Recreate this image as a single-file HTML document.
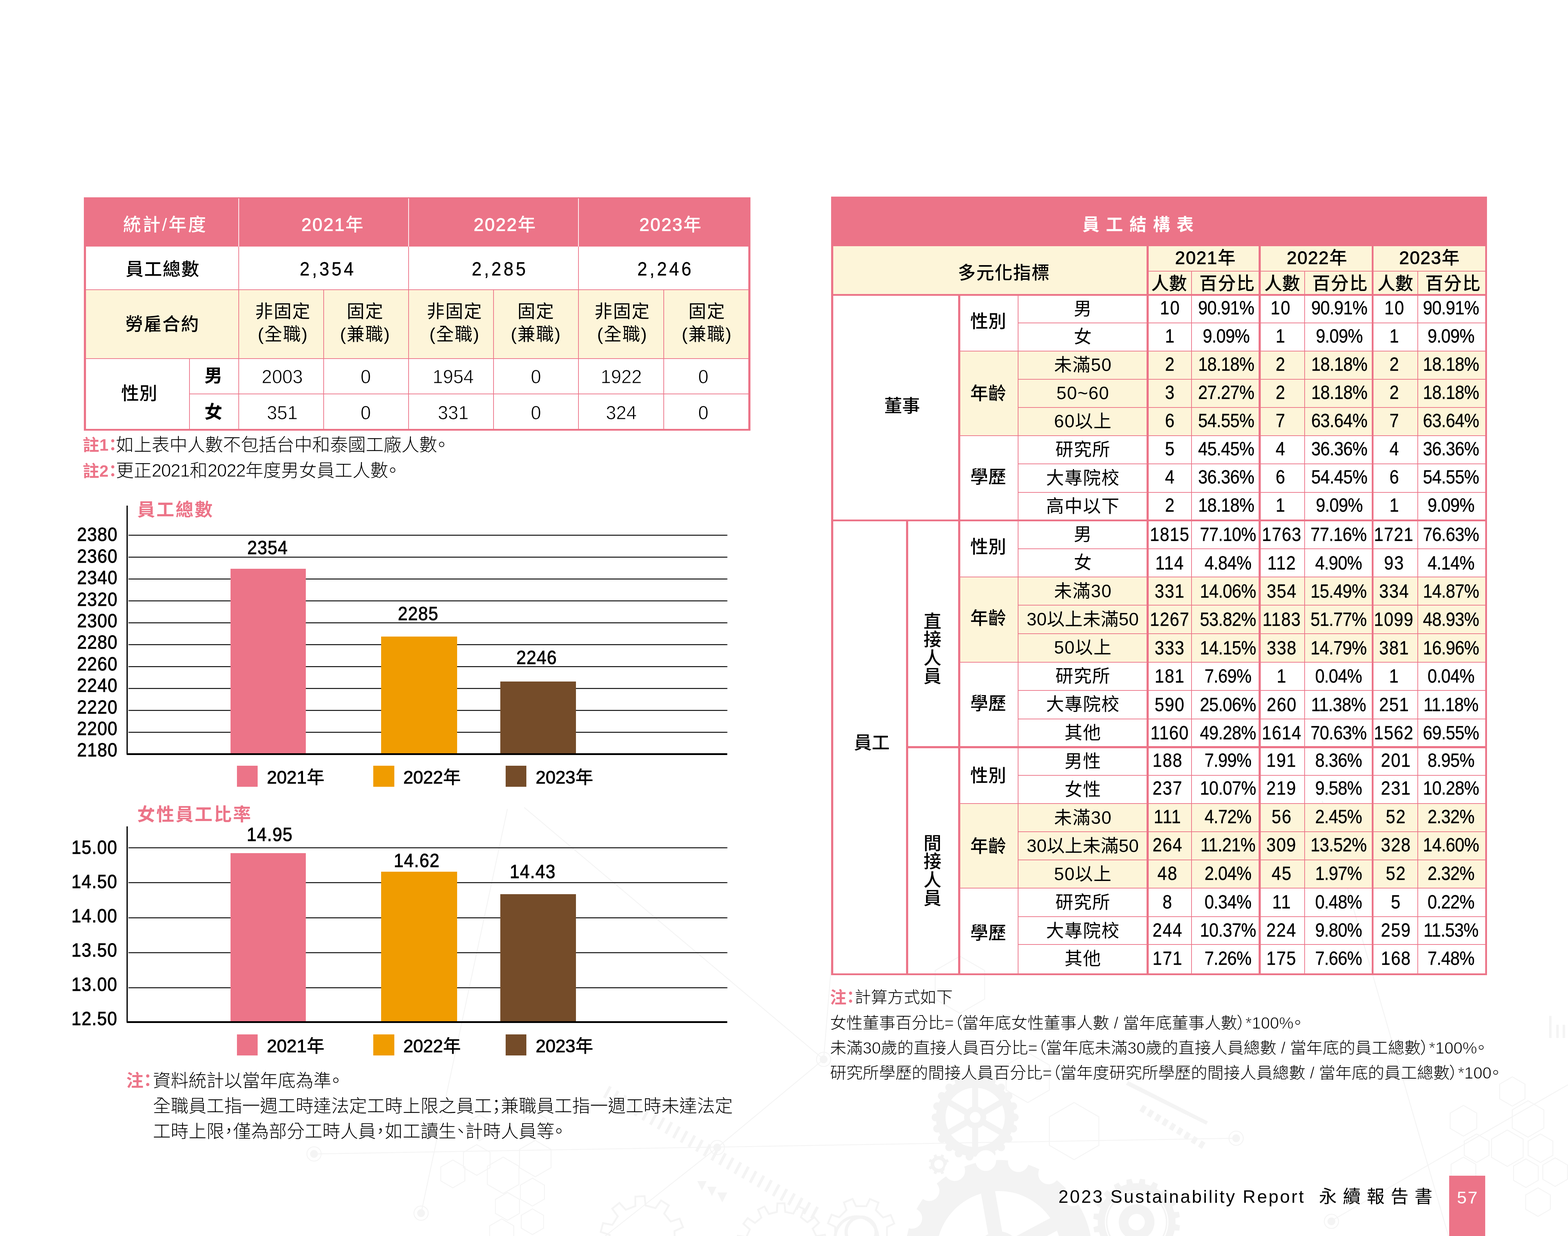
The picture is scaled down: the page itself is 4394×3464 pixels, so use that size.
<!DOCTYPE html>
<html lang="zh-Hant">
<head>
<meta charset="utf-8">
<title>2023 Sustainability Report 永續報告書 57</title>
<style>
html,body{margin:0;padding:0;}
body{width:4394px;height:3464px;background:#fff;position:relative;overflow:hidden;font-family:"Liberation Sans","Noto Sans CJK TC",sans-serif;color:#000;}
.b{position:absolute;}
.bg{position:absolute;left:0;top:0;}
.t{position:absolute;white-space:nowrap;transform:translateX(-50%);}
.l{transform:none;}
.p{font-feature-settings:"palt";}
.m{-webkit-text-stroke:1.2px currentColor;}
.n{letter-spacing:-1.2px;}
.lt{-webkit-text-stroke:1px #fff;}
.k{-webkit-text-stroke:.5px #000;}
.v{writing-mode:vertical-rl;font-size:50px;line-height:52px;font-weight:500;letter-spacing:1.4px;}
</style>
</head>
<body>
<svg class="bg" width="4394" height="3464" viewBox="0 0 4394 3464" aria-hidden="true">
<g fill="none" stroke="#f4f4f4" stroke-width="2.5">
<path d="M3705 2244L4059 3464"/>
<path d="M4394 3040L3735 3419"/>
<path d="M880 3234L3464 3190"/>
<path d="M1422 2267L1180 3400"/>
<path d="M1469 2263L2308 2969"/>
<path d="M2010 3216L2308 2969"/>
<path d="M2010 3216L1696 3464"/>
<path d="M2308 2969L2330 2700"/>
<path d="M4273.5 3079.5L4238.0 3100.0L4202.5 3079.5L4202.5 3038.5L4238.0 3018.0L4273.5 3038.5Z"/>
<path d="M4138.2 3162.5L4101.0 3184.0L4063.8 3162.5L4063.8 3119.5L4101.0 3098.0L4138.2 3119.5Z"/>
<path d="M4326.2 3161.5L4282.0 3187.0L4237.8 3161.5L4237.8 3110.5L4282.0 3085.0L4326.2 3110.5Z"/>
<path d="M4172.6 3238.0L4138.0 3258.0L4103.4 3238.0L4103.4 3198.0L4138.0 3178.0L4172.6 3198.0Z"/>
<path d="M4268.2 3243.5L4224.0 3269.0L4179.8 3243.5L4179.8 3192.5L4224.0 3167.0L4268.2 3192.5Z"/>
<path d="M4351.6 3238.0L4317.0 3258.0L4282.4 3238.0L4282.4 3198.0L4317.0 3178.0L4351.6 3198.0Z"/>
<path d="M4135.6 3303.0L4101.0 3323.0L4066.4 3303.0L4066.4 3263.0L4101.0 3243.0L4135.6 3263.0Z"/>
<path d="M4310.6 3308.0L4276.0 3328.0L4241.4 3308.0L4241.4 3268.0L4276.0 3248.0L4310.6 3268.0Z"/>
<path d="M4392.6 3305.0L4358.0 3325.0L4323.4 3305.0L4323.4 3265.0L4358.0 3245.0L4392.6 3265.0Z"/>
<path d="M4344.6 3389.0L4310.0 3409.0L4275.4 3389.0L4275.4 3349.0L4310.0 3329.0L4344.6 3349.0Z"/>
<path d="M1374.2 3179.0L1343.0 3197.0L1311.8 3179.0L1311.8 3143.0L1343.0 3125.0L1374.2 3143.0Z"/>
<path d="M1531.2 3171.0L1500.0 3189.0L1468.8 3171.0L1468.8 3135.0L1500.0 3117.0L1531.2 3135.0Z"/>
<path d="M1373.2 3272.5L1336.0 3294.0L1298.8 3272.5L1298.8 3229.5L1336.0 3208.0L1373.2 3229.5Z"/>
<path d="M1302.8 3309.5L1269.0 3329.0L1235.2 3309.5L1235.2 3270.5L1269.0 3251.0L1302.8 3270.5Z"/>
<path d="M1454.2 3319.5L1410.0 3345.0L1365.8 3319.5L1365.8 3268.5L1410.0 3243.0L1454.2 3268.5Z"/>
<path d="M1544.2 3272.5L1500.0 3298.0L1455.8 3272.5L1455.8 3221.5L1500.0 3196.0L1544.2 3221.5Z"/>
<path d="M1525.8 3360.5L1492.0 3380.0L1458.2 3360.5L1458.2 3321.5L1492.0 3302.0L1525.8 3321.5Z"/>
<path d="M1455.8 3400.5L1422.0 3420.0L1388.2 3400.5L1388.2 3361.5L1422.0 3342.0L1455.8 3361.5Z"/>
<path d="M1523.2 3442.0L1492.0 3460.0L1460.8 3442.0L1460.8 3406.0L1492.0 3388.0L1523.2 3406.0Z"/>
<path d="M1439.8 3474.5L1406.0 3494.0L1372.2 3474.5L1372.2 3435.5L1406.0 3416.0L1439.8 3435.5Z"/>
<path d="M2940.6 3055.0L2880.0 3090.0L2819.4 3055.0L2819.4 2985.0L2880.0 2950.0L2940.6 2985.0Z"/>
<path d="M3079.3 3210.0L3010.0 3250.0L2940.7 3210.0L2940.7 3130.0L3010.0 3090.0L3079.3 3130.0Z"/>
<path d="M2759.3 2800.0L2690.0 2840.0L2620.7 2800.0L2620.7 2720.0L2690.0 2680.0L2759.3 2720.0Z"/>
<circle cx="3731" cy="3423" r="20"/>
<circle cx="3464" cy="3190" r="20"/>
<circle cx="2010" cy="3216" r="20"/>
<circle cx="880" cy="3234" r="20"/>
<circle cx="1180" cy="3400" r="20"/>
<circle cx="2308" cy="2969" r="20"/>
<path d="M2485.5 3467.7L2505.8 3477.6L2495.6 3501.8L2474.4 3494.3L2453.9 3514.7L2461.2 3536.0L2436.9 3546.0L2427.2 3525.6L2398.3 3525.5L2388.4 3545.8L2364.2 3535.6L2371.7 3514.4L2351.3 3493.9L2330.0 3501.2L2320.0 3476.9L2340.4 3467.2L2340.5 3438.3L2320.2 3428.4L2330.4 3404.2L2351.6 3411.7L2372.1 3391.3L2364.8 3370.0L2389.1 3360.0L2398.8 3380.4L2427.7 3380.5L2437.6 3360.2L2461.8 3370.4L2454.3 3391.6L2474.7 3412.1L2496.0 3404.8L2506.0 3429.1L2485.6 3438.8Z" stroke-width="5"/>
<circle cx="2413" cy="3453" r="42" stroke-width="9"/>
<path d="M1891.5 3479.2L1916.7 3487.3L1910.1 3512.3L1884.2 3507.0L1868.7 3531.2L1884.3 3552.6L1864.2 3569.0L1846.4 3549.5L1819.6 3559.9L1819.6 3586.4L1793.8 3587.8L1790.8 3561.5L1763.0 3554.2L1747.5 3575.7L1725.7 3561.7L1738.8 3538.7L1720.5 3516.4L1695.4 3524.6L1686.0 3500.5L1710.1 3489.6L1708.5 3460.8L1683.3 3452.7L1689.9 3427.7L1715.8 3433.0L1731.3 3408.8L1715.7 3387.4L1735.8 3371.0L1753.6 3390.5L1780.4 3380.1L1780.4 3353.6L1806.2 3352.2L1809.2 3378.5L1837.0 3385.8L1852.5 3364.3L1874.3 3378.3L1861.2 3401.3L1879.5 3423.6L1904.6 3415.4L1914.0 3439.5L1889.9 3450.4Z" stroke-width="5"/>
<path d="M2293.5 3510.4L2316.9 3517.1L2312.6 3536.7L2288.6 3533.1L2278.7 3554.3L2296.9 3570.4L2284.6 3586.3L2264.4 3572.6L2246.4 3587.4L2255.8 3609.8L2237.8 3618.8L2225.5 3597.7L2202.9 3603.2L2201.6 3627.5L2181.5 3627.7L2179.6 3603.5L2156.9 3598.6L2145.1 3619.9L2126.9 3611.4L2135.7 3588.7L2117.4 3574.4L2097.6 3588.5L2084.9 3573.0L2102.6 3556.4L2092.3 3535.5L2068.3 3539.7L2063.6 3520.1L2086.8 3512.9L2086.5 3489.6L2063.1 3482.9L2067.4 3463.3L2091.4 3466.9L2101.3 3445.7L2083.1 3429.6L2095.4 3413.7L2115.6 3427.4L2133.6 3412.6L2124.2 3390.2L2142.2 3381.2L2154.5 3402.3L2177.1 3396.8L2178.4 3372.5L2198.5 3372.3L2200.4 3396.5L2223.1 3401.4L2234.9 3380.1L2253.1 3388.6L2244.3 3411.3L2262.6 3425.6L2282.4 3411.5L2295.1 3427.0L2277.4 3443.6L2287.7 3464.5L2311.7 3460.3L2316.4 3479.9L2293.2 3487.1Z" stroke-width="5"/>
<circle cx="2400" cy="3470" r="60" stroke-width="8"/>
</g>
<g fill="#f4f4f4">
<circle cx="3731" cy="3423" r="11"/>
<circle cx="3464" cy="3190" r="11"/>
<circle cx="2010" cy="3216" r="11"/>
<circle cx="880" cy="3234" r="11"/>
<circle cx="1180" cy="3400" r="11"/>
<circle cx="2308" cy="2969" r="11"/>
<path d="M1690.0 3075.0l17.0 -32.0l7.0 4.0l-17.0 32.0zM1711.5 3087.5l17.0 -32.0l7.0 4.0l-17.0 32.0zM1733.0 3100.0l17.0 -32.0l7.0 4.0l-17.0 32.0zM1754.5 3112.5l17.0 -32.0l7.0 4.0l-17.0 32.0zM1776.0 3125.0l17.0 -32.0l7.0 4.0l-17.0 32.0zM1797.5 3137.5l17.0 -32.0l7.0 4.0l-17.0 32.0zM1819.0 3150.0l17.0 -32.0l7.0 4.0l-17.0 32.0zM1840.5 3162.5l17.0 -32.0l7.0 4.0l-17.0 32.0zM1862.0 3175.0l17.0 -32.0l7.0 4.0l-17.0 32.0zM1883.5 3187.5l17.0 -32.0l7.0 4.0l-17.0 32.0zM1905.0 3200.0l17.0 -32.0l7.0 4.0l-17.0 32.0zM1926.5 3212.5l17.0 -32.0l7.0 4.0l-17.0 32.0zM1948.0 3225.0l17.0 -32.0l7.0 4.0l-17.0 32.0zM1969.5 3237.5l17.0 -32.0l7.0 4.0l-17.0 32.0zM1991.0 3250.0l17.0 -32.0l7.0 4.0l-17.0 32.0zM2012.5 3262.5l17.0 -32.0l7.0 4.0l-17.0 32.0zM2034.0 3275.0l17.0 -32.0l7.0 4.0l-17.0 32.0zM2055.5 3287.5l17.0 -32.0l7.0 4.0l-17.0 32.0zM2077.0 3300.0l17.0 -32.0l7.0 4.0l-17.0 32.0zM2098.5 3312.5l17.0 -32.0l7.0 4.0l-17.0 32.0zM2120.0 3325.0l17.0 -32.0l7.0 4.0l-17.0 32.0zM2141.5 3337.5l17.0 -32.0l7.0 4.0l-17.0 32.0zM2163.0 3350.0l17.0 -32.0l7.0 4.0l-17.0 32.0zM2184.5 3362.5l17.0 -32.0l7.0 4.0l-17.0 32.0zM2206.0 3375.0l17.0 -32.0l7.0 4.0l-17.0 32.0zM2227.5 3387.5l17.0 -32.0l7.0 4.0l-17.0 32.0zM2249.0 3400.0l17.0 -32.0l7.0 4.0l-17.0 32.0zM2270.5 3412.5l17.0 -32.0l7.0 4.0l-17.0 32.0z"/>
<path d="M3203.0 3096.0l-10.0 17.0l11.0 7.0l10.0 -17.0zM3223.5 3108.5l-10.0 17.0l11.0 7.0l10.0 -17.0zM3244.0 3121.0l-10.0 17.0l11.0 7.0l10.0 -17.0zM3264.5 3133.5l-10.0 17.0l11.0 7.0l10.0 -17.0zM3285.0 3146.0l-10.0 17.0l11.0 7.0l10.0 -17.0zM3305.5 3158.5l-10.0 17.0l11.0 7.0l10.0 -17.0zM3326.0 3171.0l-10.0 17.0l11.0 7.0l10.0 -17.0zM3346.5 3183.5l-10.0 17.0l11.0 7.0l10.0 -17.0zM3367.0 3196.0l-10.0 17.0l11.0 7.0l10.0 -17.0z"/>
<path d="M3162 3030L3385 3143L3380 3152L3155 3040Z"/>
<path d="M1954 3310l26 0l-13 26zM1982 3326l26 0l-13 26zM2010 3342l28 0l-14 28z"/>
<path d="M4341 2847h7v62h-7zM4361 2872h7v37h-7zM4379 2872h7v37h-7z"/>
</g>
<g fill="#f3f3f3" fill-rule="evenodd">
<path d="M2537.0 3513.0A262.0 262.0 0 1 1 3061.0 3513.0A262.0 262.0 0 1 1 2537.0 3513.0ZM2788.5 3338.3A175.0 175.0 0 0 1 2943.1 3413.7L2841.4 3467.8A62.0 62.0 0 0 0 2808.5 3451.7ZM2961.9 3449.0A175.0 175.0 0 0 1 2938.0 3619.4L2855.1 3539.4A62.0 62.0 0 0 0 2860.2 3503.1ZM2910.2 3648.2A175.0 175.0 0 0 1 2740.8 3678.0L2791.2 3574.5A62.0 62.0 0 0 0 2827.3 3568.2ZM2704.8 3660.5A175.0 175.0 0 0 1 2624.1 3508.6L2738.1 3524.6A62.0 62.0 0 0 0 2755.3 3557.0ZM2629.6 3469.0A175.0 175.0 0 0 1 2749.1 3345.3L2769.1 3458.7A62.0 62.0 0 0 0 2743.7 3485.0Z"/>
<path d="M2622.7 3131.6A110.0 110.0 0 1 1 2842.7 3131.6A110.0 110.0 0 1 1 2622.7 3131.6ZM2741.2 3049.0A83.0 83.0 0 0 1 2800.0 3083.0L2754.3 3109.3A31.0 31.0 0 0 0 2741.2 3101.8ZM2808.5 3097.7A83.0 83.0 0 0 1 2808.5 3165.5L2762.8 3139.1A31.0 31.0 0 0 0 2762.8 3124.1ZM2800.0 3180.2A83.0 83.0 0 0 1 2741.2 3214.2L2741.2 3161.4A31.0 31.0 0 0 0 2754.3 3153.9ZM2724.2 3214.2A83.0 83.0 0 0 1 2665.4 3180.2L2711.1 3153.9A31.0 31.0 0 0 0 2724.2 3161.4ZM2656.9 3165.5A83.0 83.0 0 0 1 2656.9 3097.7L2702.6 3124.1A31.0 31.0 0 0 0 2702.6 3139.1ZM2665.4 3083.0A83.0 83.0 0 0 1 2724.2 3049.0L2724.2 3101.8A31.0 31.0 0 0 0 2711.1 3109.3ZM2717.7 3131.6A15.0 15.0 0 1 1 2747.7 3131.6A15.0 15.0 0 1 1 2717.7 3131.6Z"/>
<path d="M2832.7 3131.6A11.0 11.0 0 1 1 2854.7 3131.6A11.0 11.0 0 1 1 2832.7 3131.6ZM2828.2 3162.9A11.0 11.0 0 1 1 2850.2 3162.9A11.0 11.0 0 1 1 2828.2 3162.9ZM2815.1 3191.6A11.0 11.0 0 1 1 2837.1 3191.6A11.0 11.0 0 1 1 2815.1 3191.6ZM2794.4 3215.5A11.0 11.0 0 1 1 2816.4 3215.5A11.0 11.0 0 1 1 2794.4 3215.5ZM2767.8 3232.6A11.0 11.0 0 1 1 2789.8 3232.6A11.0 11.0 0 1 1 2767.8 3232.6ZM2737.5 3241.5A11.0 11.0 0 1 1 2759.5 3241.5A11.0 11.0 0 1 1 2737.5 3241.5ZM2705.9 3241.5A11.0 11.0 0 1 1 2727.9 3241.5A11.0 11.0 0 1 1 2705.9 3241.5ZM2675.6 3232.6A11.0 11.0 0 1 1 2697.6 3232.6A11.0 11.0 0 1 1 2675.6 3232.6ZM2649.0 3215.5A11.0 11.0 0 1 1 2671.0 3215.5A11.0 11.0 0 1 1 2649.0 3215.5ZM2628.3 3191.6A11.0 11.0 0 1 1 2650.3 3191.6A11.0 11.0 0 1 1 2628.3 3191.6ZM2615.2 3162.9A11.0 11.0 0 1 1 2637.2 3162.9A11.0 11.0 0 1 1 2615.2 3162.9ZM2610.7 3131.6A11.0 11.0 0 1 1 2632.7 3131.6A11.0 11.0 0 1 1 2610.7 3131.6ZM2615.2 3100.3A11.0 11.0 0 1 1 2637.2 3100.3A11.0 11.0 0 1 1 2615.2 3100.3ZM2628.3 3071.6A11.0 11.0 0 1 1 2650.3 3071.6A11.0 11.0 0 1 1 2628.3 3071.6ZM2649.0 3047.7A11.0 11.0 0 1 1 2671.0 3047.7A11.0 11.0 0 1 1 2649.0 3047.7ZM2675.6 3030.6A11.0 11.0 0 1 1 2697.6 3030.6A11.0 11.0 0 1 1 2675.6 3030.6ZM2705.9 3021.7A11.0 11.0 0 1 1 2727.9 3021.7A11.0 11.0 0 1 1 2705.9 3021.7ZM2737.5 3021.7A11.0 11.0 0 1 1 2759.5 3021.7A11.0 11.0 0 1 1 2737.5 3021.7ZM2767.8 3030.6A11.0 11.0 0 1 1 2789.8 3030.6A11.0 11.0 0 1 1 2767.8 3030.6ZM2794.4 3047.7A11.0 11.0 0 1 1 2816.4 3047.7A11.0 11.0 0 1 1 2794.4 3047.7ZM2815.1 3071.6A11.0 11.0 0 1 1 2837.1 3071.6A11.0 11.0 0 1 1 2815.1 3071.6ZM2828.2 3100.3A11.0 11.0 0 1 1 2850.2 3100.3A11.0 11.0 0 1 1 2828.2 3100.3Z" fill-rule="nonzero"/>
<path d="M3292.1 3430.3L3306.8 3434.3L3304.8 3448.9L3289.6 3448.6L3285.2 3463.1L3298.0 3471.4L3291.6 3484.7L3277.1 3479.7L3268.5 3492.1L3278.2 3504.0L3268.0 3514.6L3255.7 3505.5L3243.7 3514.6L3249.2 3528.9L3236.2 3535.8L3227.4 3523.3L3213.1 3528.3L3214.0 3543.6L3199.5 3546.2L3195.0 3531.6L3179.9 3531.9L3175.9 3546.6L3161.3 3544.6L3161.6 3529.4L3147.1 3525.0L3138.8 3537.8L3125.5 3531.4L3130.5 3516.9L3118.1 3508.3L3106.2 3518.0L3095.6 3507.8L3104.7 3495.5L3095.6 3483.5L3081.3 3489.0L3074.4 3476.0L3086.9 3467.2L3081.9 3452.9L3066.6 3453.8L3064.0 3439.3L3078.6 3434.8L3078.3 3419.7L3063.6 3415.7L3065.6 3401.1L3080.8 3401.4L3085.2 3386.9L3072.4 3378.6L3078.8 3365.3L3093.3 3370.3L3101.9 3357.9L3092.2 3346.0L3102.4 3335.4L3114.7 3344.5L3126.7 3335.4L3121.2 3321.1L3134.2 3314.2L3143.0 3326.7L3157.3 3321.7L3156.4 3306.4L3170.9 3303.8L3175.4 3318.4L3190.5 3318.1L3194.5 3303.4L3209.1 3305.4L3208.8 3320.6L3223.3 3325.0L3231.6 3312.2L3244.9 3318.6L3239.9 3333.1L3252.3 3341.7L3264.2 3332.0L3274.8 3342.2L3265.7 3354.5L3274.8 3366.5L3289.1 3361.0L3296.0 3374.0L3283.5 3382.8L3288.5 3397.1L3303.8 3396.2L3306.4 3410.7L3291.8 3415.2ZM3085.2 3425.0A100.0 100.0 0 1 1 3285.2 3425.0A100.0 100.0 0 1 1 3085.2 3425.0Z"/>
<path d="M3076.2 3425.0A109.0 109.0 0 1 1 3294.2 3425.0A109.0 109.0 0 1 1 3076.2 3425.0ZM3096.2 3425.0A89.0 89.0 0 1 1 3274.2 3425.0A89.0 89.0 0 1 1 3096.2 3425.0ZM3099.2 3425.0A86.0 86.0 0 1 1 3271.2 3425.0A86.0 86.0 0 1 1 3099.2 3425.0ZM3103.2 3425.0A82.0 82.0 0 1 1 3267.2 3425.0A82.0 82.0 0 1 1 3103.2 3425.0ZM3135.2 3425.0A50.0 50.0 0 1 1 3235.2 3425.0A50.0 50.0 0 1 1 3135.2 3425.0ZM3162.2 3425.0A23.0 23.0 0 1 1 3208.2 3425.0A23.0 23.0 0 1 1 3162.2 3425.0Z"/>
<path d="M2652.4 3267.4L2658.8 3270.4L2655.8 3277.8L2649.0 3275.3L2643.0 3281.3L2645.4 3288.1L2638.0 3291.1L2635.0 3284.6L2626.4 3284.6L2623.4 3291.0L2616.0 3288.0L2618.5 3281.2L2612.5 3275.2L2605.7 3277.6L2602.7 3270.2L2609.2 3267.2L2609.2 3258.6L2602.8 3255.6L2605.8 3248.2L2612.6 3250.7L2618.6 3244.7L2616.2 3237.9L2623.6 3234.9L2626.6 3241.4L2635.2 3241.4L2638.2 3235.0L2645.6 3238.0L2643.1 3244.8L2649.1 3250.8L2655.9 3248.4L2658.9 3255.8L2652.4 3258.8ZM2617.8 3263.0A13.0 13.0 0 1 1 2643.8 3263.0A13.0 13.0 0 1 1 2617.8 3263.0Z"/>
<path d="M2607.8 3263.0A23.0 23.0 0 1 1 2653.8 3263.0A23.0 23.0 0 1 1 2607.8 3263.0ZM2617.8 3263.0A13.0 13.0 0 1 1 2643.8 3263.0A13.0 13.0 0 1 1 2617.8 3263.0Z"/>
</g>
<path d="M2824.7 3255.7A29.0 29.0 0 1 1 2882.7 3255.7A29.0 29.0 0 1 1 2824.7 3255.7ZM2909.4 3290.0A29.0 29.0 0 1 1 2967.4 3290.0A29.0 29.0 0 1 1 2909.4 3290.0ZM2977.2 3351.1A29.0 29.0 0 1 1 3035.2 3351.1A29.0 29.0 0 1 1 2977.2 3351.1ZM2519.9 3594.3A29.0 29.0 0 1 1 2577.9 3594.3A29.0 29.0 0 1 1 2519.9 3594.3ZM2507.2 3503.8A29.0 29.0 0 1 1 2565.2 3503.8A29.0 29.0 0 1 1 2507.2 3503.8ZM2526.2 3414.5A29.0 29.0 0 1 1 2584.2 3414.5A29.0 29.0 0 1 1 2526.2 3414.5ZM2574.6 3337.0A29.0 29.0 0 1 1 2632.6 3337.0A29.0 29.0 0 1 1 2574.6 3337.0ZM2646.5 3280.8A29.0 29.0 0 1 1 2704.5 3280.8A29.0 29.0 0 1 1 2646.5 3280.8ZM2733.4 3252.6A29.0 29.0 0 1 1 2791.4 3252.6A29.0 29.0 0 1 1 2733.4 3252.6Z" fill="#fff"/>
</svg>
<!-- left table -->
<div class="b" style="left:235.0px;top:553.0px;width:1867.5px;height:137.8px;background:#ec7488;"></div>
<div class="b" style="left:235.0px;top:812.0px;width:1867.5px;height:192.5px;background:#fdf5d9;"></div>
<div class="b" style="left:235.0px;top:553.0px;width:5.5px;height:654.0px;background:#ec7488;"></div>
<div class="b" style="left:2097.0px;top:553.0px;width:5.5px;height:654.0px;background:#ec7488;"></div>
<div class="b" style="left:235.0px;top:553.0px;width:1867.5px;height:5.5px;background:#ec7488;"></div>
<div class="b" style="left:235.0px;top:1201.5px;width:1867.5px;height:5.5px;background:#ec7488;"></div>
<div class="b" style="left:667.8px;top:556.0px;width:2.0px;height:134.8px;background:#fff;"></div>
<div class="b" style="left:1144.0px;top:556.0px;width:2.0px;height:134.8px;background:#fff;"></div>
<div class="b" style="left:1620.0px;top:556.0px;width:2.0px;height:134.8px;background:#fff;"></div>
<div class="b" style="left:235.0px;top:811.0px;width:1867.5px;height:2.0px;background:#ec7488;"></div>
<div class="b" style="left:235.0px;top:1003.5px;width:1867.5px;height:2.0px;background:#ec7488;"></div>
<div class="b" style="left:531.0px;top:1102.7px;width:1571.5px;height:2.0px;background:#ec7488;"></div>
<div class="b" style="left:667.8px;top:690.8px;width:2.0px;height:514.2px;background:#ec7488;"></div>
<div class="b" style="left:1144.0px;top:690.8px;width:2.0px;height:514.2px;background:#ec7488;"></div>
<div class="b" style="left:1620.0px;top:690.8px;width:2.0px;height:514.2px;background:#ec7488;"></div>
<div class="b" style="left:906.0px;top:812.0px;width:2.0px;height:393.0px;background:#ec7488;"></div>
<div class="b" style="left:1382.0px;top:812.0px;width:2.0px;height:393.0px;background:#ec7488;"></div>
<div class="b" style="left:1859.0px;top:812.0px;width:2.0px;height:393.0px;background:#ec7488;"></div>
<div class="b" style="left:530.0px;top:1004.5px;width:2.0px;height:200.5px;background:#ec7488;"></div>
<div class="t" style="top:605.0px;font-size:50px;line-height:50px;font-weight:500;letter-spacing:4.5px;color:#fff;left:463.2px;">統計/年度</div>
<div class="t" style="top:605.0px;font-size:50px;line-height:50px;font-weight:500;letter-spacing:3px;color:#fff;left:932.9px;"><span class="m">2021</span>年</div>
<div class="t" style="top:605.0px;font-size:50px;line-height:50px;font-weight:500;letter-spacing:3px;color:#fff;left:1415.7px;"><span class="m">2022</span>年</div>
<div class="t" style="top:605.0px;font-size:50px;line-height:50px;font-weight:500;letter-spacing:3px;color:#fff;left:1879.9px;"><span class="m">2023</span>年</div>
<div class="t" style="top:730.0px;font-size:50px;line-height:50px;font-weight:500;letter-spacing:2px;left:456.0px;">員工總數</div>
<div class="t k" style="top:726.0px;font-size:54px;line-height:54px;letter-spacing:7.3px;left:918.9px;transform:translateX(-50%) scaleX(0.92);">2,354</div>
<div class="t k" style="top:726.0px;font-size:54px;line-height:54px;letter-spacing:7.3px;left:1401.4px;transform:translateX(-50%) scaleX(0.92);">2,285</div>
<div class="t k" style="top:726.0px;font-size:54px;line-height:54px;letter-spacing:7.3px;left:1865.4px;transform:translateX(-50%) scaleX(0.92);">2,246</div>
<div class="t" style="top:884.0px;font-size:50px;line-height:50px;font-weight:500;letter-spacing:2px;left:455.0px;">勞雇合約</div>
<div class="t" style="top:848.0px;font-size:50px;line-height:50px;letter-spacing:2px;left:793.0px;">非固定</div>
<div class="t" style="top:912.0px;font-size:50px;line-height:50px;letter-spacing:2px;left:793.0px;">(全職)</div>
<div class="t" style="top:848.0px;font-size:50px;line-height:50px;letter-spacing:2px;left:1023.5px;">固定</div>
<div class="t" style="top:912.0px;font-size:50px;line-height:50px;letter-spacing:2px;left:1023.5px;">(兼職)</div>
<div class="t" style="top:848.0px;font-size:50px;line-height:50px;letter-spacing:2px;left:1274.0px;">非固定</div>
<div class="t" style="top:912.0px;font-size:50px;line-height:50px;letter-spacing:2px;left:1274.0px;">(全職)</div>
<div class="t" style="top:848.0px;font-size:50px;line-height:50px;letter-spacing:2px;left:1502.0px;">固定</div>
<div class="t" style="top:912.0px;font-size:50px;line-height:50px;letter-spacing:2px;left:1502.0px;">(兼職)</div>
<div class="t" style="top:848.0px;font-size:50px;line-height:50px;letter-spacing:2px;left:1744.0px;">非固定</div>
<div class="t" style="top:912.0px;font-size:50px;line-height:50px;letter-spacing:2px;left:1744.0px;">(全職)</div>
<div class="t" style="top:848.0px;font-size:50px;line-height:50px;letter-spacing:2px;left:1981.0px;">固定</div>
<div class="t" style="top:912.0px;font-size:50px;line-height:50px;letter-spacing:2px;left:1981.0px;">(兼職)</div>
<div class="t" style="top:1078.0px;font-size:50px;line-height:50px;font-weight:500;letter-spacing:1px;left:390.5px;">性別</div>
<div class="t" style="top:1028.0px;font-size:50px;line-height:50px;font-weight:700;left:598.0px;">男</div>
<div class="t" style="top:1130.0px;font-size:50px;line-height:50px;font-weight:700;left:598.0px;">女</div>
<div class="t lt" style="top:1027.5px;font-size:54px;line-height:54px;left:790.5px;transform:translateX(-50%) scaleX(0.96);">2003</div>
<div class="t lt" style="top:1027.5px;font-size:54px;line-height:54px;left:1025.0px;transform:translateX(-50%) scaleX(0.96);">0</div>
<div class="t lt" style="top:1027.5px;font-size:54px;line-height:54px;left:1270.0px;transform:translateX(-50%) scaleX(0.96);">1954</div>
<div class="t lt" style="top:1027.5px;font-size:54px;line-height:54px;left:1501.5px;transform:translateX(-50%) scaleX(0.96);">0</div>
<div class="t lt" style="top:1027.5px;font-size:54px;line-height:54px;left:1741.0px;transform:translateX(-50%) scaleX(0.96);">1922</div>
<div class="t lt" style="top:1027.5px;font-size:54px;line-height:54px;left:1970.5px;transform:translateX(-50%) scaleX(0.96);">0</div>
<div class="t lt" style="top:1129.0px;font-size:54px;line-height:54px;left:790.5px;transform:translateX(-50%) scaleX(0.96);">351</div>
<div class="t lt" style="top:1129.0px;font-size:54px;line-height:54px;left:1025.0px;transform:translateX(-50%) scaleX(0.96);">0</div>
<div class="t lt" style="top:1129.0px;font-size:54px;line-height:54px;left:1270.0px;transform:translateX(-50%) scaleX(0.96);">331</div>
<div class="t lt" style="top:1129.0px;font-size:54px;line-height:54px;left:1501.5px;transform:translateX(-50%) scaleX(0.96);">0</div>
<div class="t lt" style="top:1129.0px;font-size:54px;line-height:54px;left:1741.0px;transform:translateX(-50%) scaleX(0.96);">324</div>
<div class="t lt" style="top:1129.0px;font-size:54px;line-height:54px;left:1970.5px;transform:translateX(-50%) scaleX(0.96);">0</div>
<div class="t l p" style="top:1223.5px;font-size:46px;line-height:46px;font-weight:700;letter-spacing:0.5px;color:#ec7488;left:232.0px;">註1：</div>
<div class="t l p" style="top:1221.5px;font-size:50px;line-height:50px;font-weight:300;left:325.0px;">如上表中人數不包括台中和泰國工廠人數。</div>
<div class="t l p" style="top:1296.5px;font-size:46px;line-height:46px;font-weight:700;letter-spacing:0.5px;color:#ec7488;left:232.0px;">註2：</div>
<div class="t l p" style="top:1294.0px;font-size:50px;line-height:50px;font-weight:300;left:325.0px;">更正<span class="lt n">2021</span>和<span class="lt n">2022</span>年度男女員工人數。</div>
<!-- chart: 員工總數 -->
<div class="t l" style="top:1404.0px;font-size:50px;line-height:50px;font-weight:700;letter-spacing:3.7px;color:#ec7488;left:384.5px;">員工總數</div>
<svg class="bg" width="4394" height="3464" viewBox="0 0 4394 3464" aria-hidden="true"><path d="M360 1500.0H2038.3M360 1561.4H2038.3M360 1622.7H2038.3M360 1684.1H2038.3M360 1745.5H2038.3M360 1806.8H2038.3M360 1868.2H2038.3M360 1929.6H2038.3M360 1991.0H2038.3M360 2052.3H2038.3" fill="none" stroke="#000" stroke-width="2.5"/><path d="M356.3 1417V2113.7" fill="none" stroke="#000" stroke-width="3.5"/></svg>
<div class="b" style="left:645.6px;top:1594.1px;width:211.4px;height:519.6px;background:#ec7488;"></div>
<div class="b" style="left:1068.3px;top:1784.2px;width:212.3px;height:329.5px;background:#f09c00;"></div>
<div class="b" style="left:1402.4px;top:1909.8px;width:211.4px;height:203.9px;background:#754c29;"></div>
<div class="b" style="left:354.6px;top:2110.7px;width:1683.8px;height:5.0px;background:#000;"></div>
<div class="t l m" style="top:1471.3px;font-size:53px;line-height:53px;letter-spacing:1.5px;right:4064.6px;transform:scaleX(0.92);transform-origin:100% 0;">2380</div>
<div class="t l m" style="top:1531.7px;font-size:53px;line-height:53px;letter-spacing:1.5px;right:4064.6px;transform:scaleX(0.92);transform-origin:100% 0;">2360</div>
<div class="t l m" style="top:1592.1px;font-size:53px;line-height:53px;letter-spacing:1.5px;right:4064.6px;transform:scaleX(0.92);transform-origin:100% 0;">2340</div>
<div class="t l m" style="top:1652.5px;font-size:53px;line-height:53px;letter-spacing:1.5px;right:4064.6px;transform:scaleX(0.92);transform-origin:100% 0;">2320</div>
<div class="t l m" style="top:1712.9px;font-size:53px;line-height:53px;letter-spacing:1.5px;right:4064.6px;transform:scaleX(0.92);transform-origin:100% 0;">2300</div>
<div class="t l m" style="top:1773.3px;font-size:53px;line-height:53px;letter-spacing:1.5px;right:4064.6px;transform:scaleX(0.92);transform-origin:100% 0;">2280</div>
<div class="t l m" style="top:1833.7px;font-size:53px;line-height:53px;letter-spacing:1.5px;right:4064.6px;transform:scaleX(0.92);transform-origin:100% 0;">2260</div>
<div class="t l m" style="top:1894.1px;font-size:53px;line-height:53px;letter-spacing:1.5px;right:4064.6px;transform:scaleX(0.92);transform-origin:100% 0;">2240</div>
<div class="t l m" style="top:1954.5px;font-size:53px;line-height:53px;letter-spacing:1.5px;right:4064.6px;transform:scaleX(0.92);transform-origin:100% 0;">2220</div>
<div class="t l m" style="top:2014.9px;font-size:53px;line-height:53px;letter-spacing:1.5px;right:4064.6px;transform:scaleX(0.92);transform-origin:100% 0;">2200</div>
<div class="t l m" style="top:2075.3px;font-size:53px;line-height:53px;letter-spacing:1.5px;right:4064.6px;transform:scaleX(0.92);transform-origin:100% 0;">2180</div>
<div class="t m" style="top:1508.0px;font-size:53px;line-height:53px;letter-spacing:1.5px;left:749.7px;transform:translateX(-50%) scaleX(0.92);">2354</div>
<div class="t m" style="top:1692.5px;font-size:53px;line-height:53px;letter-spacing:1.5px;left:1172.3px;transform:translateX(-50%) scaleX(0.92);">2285</div>
<div class="t m" style="top:1815.5px;font-size:53px;line-height:53px;letter-spacing:1.5px;left:1504.1px;transform:translateX(-50%) scaleX(0.92);">2246</div>
<div class="b" style="left:664.0px;top:2146.0px;width:58.2px;height:58.5px;background:#ec7488;"></div>
<div class="t l" style="top:2154.0px;font-size:50px;line-height:50px;font-weight:500;left:748.0px;"><span class="m">2021</span>年</div>
<div class="b" style="left:1046.2px;top:2146.0px;width:59.0px;height:58.5px;background:#f09c00;"></div>
<div class="t l" style="top:2154.0px;font-size:50px;line-height:50px;font-weight:500;left:1130.2px;"><span class="m">2022</span>年</div>
<div class="b" style="left:1417.2px;top:2146.0px;width:58.1px;height:58.5px;background:#754c29;"></div>
<div class="t l" style="top:2154.0px;font-size:50px;line-height:50px;font-weight:500;left:1501.2px;"><span class="m">2023</span>年</div>
<!-- chart: 女性員工比率 -->
<div class="t l" style="top:2258.0px;font-size:50px;line-height:50px;font-weight:700;letter-spacing:3.7px;color:#ec7488;left:384.5px;">女性員工比率</div>
<svg class="bg" width="4394" height="3464" viewBox="0 0 4394 3464" aria-hidden="true"><path d="M360 2376.0H2038.3M360 2473.8H2038.3M360 2572.3H2038.3M360 2670.0H2038.3M360 2768.2H2038.3" fill="none" stroke="#000" stroke-width="2.5"/><path d="M356.3 2316V2865.1" fill="none" stroke="#000" stroke-width="3.5"/></svg>
<div class="b" style="left:645.6px;top:2390.7px;width:211.4px;height:474.4px;background:#ec7488;"></div>
<div class="b" style="left:1068.3px;top:2443.4px;width:212.3px;height:421.7px;background:#f09c00;"></div>
<div class="b" style="left:1402.4px;top:2506.1px;width:211.4px;height:359.0px;background:#754c29;"></div>
<div class="b" style="left:354.6px;top:2862.1px;width:1683.8px;height:5.0px;background:#000;"></div>
<div class="t l m" style="top:2347.7px;font-size:53px;line-height:53px;letter-spacing:1.5px;right:4064.6px;transform:scaleX(0.92);transform-origin:100% 0;">15.00</div>
<div class="t l m" style="top:2443.7px;font-size:53px;line-height:53px;letter-spacing:1.5px;right:4064.6px;transform:scaleX(0.92);transform-origin:100% 0;">14.50</div>
<div class="t l m" style="top:2539.7px;font-size:53px;line-height:53px;letter-spacing:1.5px;right:4064.6px;transform:scaleX(0.92);transform-origin:100% 0;">14.00</div>
<div class="t l m" style="top:2635.7px;font-size:53px;line-height:53px;letter-spacing:1.5px;right:4064.6px;transform:scaleX(0.92);transform-origin:100% 0;">13.50</div>
<div class="t l m" style="top:2731.7px;font-size:53px;line-height:53px;letter-spacing:1.5px;right:4064.6px;transform:scaleX(0.92);transform-origin:100% 0;">13.00</div>
<div class="t l m" style="top:2827.7px;font-size:53px;line-height:53px;letter-spacing:1.5px;right:4064.6px;transform:scaleX(0.92);transform-origin:100% 0;">12.50</div>
<div class="t m" style="top:2312.0px;font-size:53px;line-height:53px;letter-spacing:1.5px;left:755.7px;transform:translateX(-50%) scaleX(0.92);">14.95</div>
<div class="t m" style="top:2385.0px;font-size:53px;line-height:53px;letter-spacing:1.5px;left:1167.7px;transform:translateX(-50%) scaleX(0.92);">14.62</div>
<div class="t m" style="top:2415.5px;font-size:53px;line-height:53px;letter-spacing:1.5px;left:1493.0px;transform:translateX(-50%) scaleX(0.92);">14.43</div>
<div class="b" style="left:664.0px;top:2899.3px;width:58.2px;height:58.5px;background:#ec7488;"></div>
<div class="t l" style="top:2907.0px;font-size:50px;line-height:50px;font-weight:500;left:748.0px;"><span class="m">2021</span>年</div>
<div class="b" style="left:1046.2px;top:2899.3px;width:59.0px;height:58.5px;background:#f09c00;"></div>
<div class="t l" style="top:2907.0px;font-size:50px;line-height:50px;font-weight:500;left:1130.2px;"><span class="m">2022</span>年</div>
<div class="b" style="left:1417.2px;top:2899.3px;width:58.1px;height:58.5px;background:#754c29;"></div>
<div class="t l" style="top:2907.0px;font-size:50px;line-height:50px;font-weight:500;left:1501.2px;"><span class="m">2023</span>年</div>
<div class="t l p" style="top:3005.0px;font-size:48px;line-height:48px;font-weight:700;color:#ec7488;left:354.0px;">注：</div>
<div class="t l p" style="top:3003.5px;font-size:50px;line-height:50px;font-weight:300;left:428.5px;">資料統計以當年底為準。</div>
<div class="t l p" style="top:3074.5px;font-size:50px;line-height:50px;font-weight:300;left:428.5px;">全職員工指一週工時達法定工時上限之員工；兼職員工指一週工時未達法定</div>
<div class="t l p" style="top:3145.5px;font-size:50px;line-height:50px;font-weight:300;left:428.5px;">工時上限，僅為部分工時人員，如工讀生、計時人員等。</div>
<!-- right table -->
<div class="b" style="left:2329.0px;top:550.8px;width:1838.2px;height:139.2px;background:#ec7488;"></div>
<div class="b" style="left:2329.0px;top:690.0px;width:1838.2px;height:136.3px;background:#fdf5d9;"></div>
<div class="b" style="left:2688.1px;top:983.8px;width:1479.1px;height:237.2px;background:#fdf5d9;"></div>
<div class="b" style="left:2688.1px;top:1617.2px;width:1479.1px;height:238.5px;background:#fdf5d9;"></div>
<div class="b" style="left:2688.1px;top:2252.3px;width:1479.1px;height:237.1px;background:#fdf5d9;"></div>
<div class="b" style="left:2329.0px;top:550.8px;width:5.5px;height:2182.2px;background:#ec7488;"></div>
<div class="b" style="left:4161.7px;top:550.8px;width:5.5px;height:2182.2px;background:#ec7488;"></div>
<div class="b" style="left:2329.0px;top:550.8px;width:1838.2px;height:5.5px;background:#ec7488;"></div>
<div class="b" style="left:2329.0px;top:2727.5px;width:1838.2px;height:5.5px;background:#ec7488;"></div>
<div class="b" style="left:3216.0px;top:758.8px;width:951.2px;height:2.0px;background:#ec7488;"></div>
<div class="b" style="left:2852.8px;top:903.8px;width:1314.4px;height:2.0px;background:#ec7488;"></div>
<div class="b" style="left:2688.1px;top:982.8px;width:1479.1px;height:2.0px;background:#ec7488;"></div>
<div class="b" style="left:2852.8px;top:1061.9px;width:1314.4px;height:2.0px;background:#ec7488;"></div>
<div class="b" style="left:2852.8px;top:1141.0px;width:1314.4px;height:2.0px;background:#ec7488;"></div>
<div class="b" style="left:2688.1px;top:1220.0px;width:1479.1px;height:2.0px;background:#ec7488;"></div>
<div class="b" style="left:2852.8px;top:1299.2px;width:1314.4px;height:2.0px;background:#ec7488;"></div>
<div class="b" style="left:2852.8px;top:1378.5px;width:1314.4px;height:2.0px;background:#ec7488;"></div>
<div class="b" style="left:2852.8px;top:1537.0px;width:1314.4px;height:2.0px;background:#ec7488;"></div>
<div class="b" style="left:2688.1px;top:1616.2px;width:1479.1px;height:2.0px;background:#ec7488;"></div>
<div class="b" style="left:2852.8px;top:1695.3px;width:1314.4px;height:2.0px;background:#ec7488;"></div>
<div class="b" style="left:2852.8px;top:1775.0px;width:1314.4px;height:2.0px;background:#ec7488;"></div>
<div class="b" style="left:2688.1px;top:1854.7px;width:1479.1px;height:2.0px;background:#ec7488;"></div>
<div class="b" style="left:2852.8px;top:1934.1px;width:1314.4px;height:2.0px;background:#ec7488;"></div>
<div class="b" style="left:2852.8px;top:2013.7px;width:1314.4px;height:2.0px;background:#ec7488;"></div>
<div class="b" style="left:2852.8px;top:2171.9px;width:1314.4px;height:2.0px;background:#ec7488;"></div>
<div class="b" style="left:2688.1px;top:2251.3px;width:1479.1px;height:2.0px;background:#ec7488;"></div>
<div class="b" style="left:2852.8px;top:2330.3px;width:1314.4px;height:2.0px;background:#ec7488;"></div>
<div class="b" style="left:2852.8px;top:2409.0px;width:1314.4px;height:2.0px;background:#ec7488;"></div>
<div class="b" style="left:2688.1px;top:2488.4px;width:1479.1px;height:2.0px;background:#ec7488;"></div>
<div class="b" style="left:2852.8px;top:2567.5px;width:1314.4px;height:2.0px;background:#ec7488;"></div>
<div class="b" style="left:2852.8px;top:2646.3px;width:1314.4px;height:2.0px;background:#ec7488;"></div>
<div class="b" style="left:2851.8px;top:826.3px;width:2.0px;height:1904.7px;background:#ec7488;"></div>
<div class="b" style="left:3337.6px;top:759.8px;width:2.0px;height:1971.2px;background:#ec7488;"></div>
<div class="b" style="left:3655.0px;top:759.8px;width:2.0px;height:1971.2px;background:#ec7488;"></div>
<div class="b" style="left:3972.0px;top:759.8px;width:2.0px;height:1971.2px;background:#ec7488;"></div>
<div class="b" style="left:2329.0px;top:823.5px;width:1838.2px;height:5.5px;background:#ec7488;"></div>
<div class="b" style="left:2329.0px;top:1455.5px;width:1838.2px;height:5.5px;background:#ec7488;"></div>
<div class="b" style="left:2541.8px;top:2091.2px;width:1625.4px;height:5.5px;background:#ec7488;"></div>
<div class="b" style="left:2539.1px;top:1458.3px;width:5.5px;height:1272.7px;background:#ec7488;"></div>
<div class="b" style="left:2685.3px;top:826.3px;width:5.5px;height:1904.7px;background:#ec7488;"></div>
<div class="b" style="left:3213.2px;top:690.0px;width:5.5px;height:2041.0px;background:#ec7488;"></div>
<div class="b" style="left:3527.1px;top:690.0px;width:5.5px;height:2041.0px;background:#ec7488;"></div>
<div class="b" style="left:3843.7px;top:690.0px;width:5.5px;height:2041.0px;background:#ec7488;"></div>
<div class="t" style="top:606.0px;font-size:48px;line-height:48px;font-weight:700;letter-spacing:18px;color:#fff;left:3198.0px;">員工結構表</div>
<div class="t" style="top:740.0px;font-size:50px;line-height:50px;font-weight:500;letter-spacing:1.6px;left:2813.3px;">多元化指標</div>
<div class="t" style="top:698.0px;font-size:50px;line-height:50px;font-weight:500;letter-spacing:2px;left:3378.7px;"><span class="m">2021</span>年</div>
<div class="t" style="top:698.0px;font-size:50px;line-height:50px;font-weight:500;letter-spacing:2px;left:3691.5px;"><span class="m">2022</span>年</div>
<div class="t" style="top:698.0px;font-size:50px;line-height:50px;font-weight:500;letter-spacing:2px;left:4006.5px;"><span class="m">2023</span>年</div>
<div class="t" style="top:770.0px;font-size:50px;line-height:50px;font-weight:500;left:3276.0px;">人數</div>
<div class="t" style="top:770.0px;font-size:50px;line-height:50px;font-weight:500;left:3593.0px;">人數</div>
<div class="t" style="top:770.0px;font-size:50px;line-height:50px;font-weight:500;left:3910.0px;">人數</div>
<div class="t" style="top:770.0px;font-size:50px;line-height:50px;font-weight:500;letter-spacing:2px;left:3439.0px;">百分比</div>
<div class="t" style="top:770.0px;font-size:50px;line-height:50px;font-weight:500;letter-spacing:2px;left:3755.5px;">百分比</div>
<div class="t" style="top:770.0px;font-size:50px;line-height:50px;font-weight:500;letter-spacing:2px;left:4072.0px;">百分比</div>
<div class="t" style="top:1113.0px;font-size:50px;line-height:50px;font-weight:500;left:2528.0px;">董事</div>
<div class="t" style="top:2057.0px;font-size:50px;line-height:50px;font-weight:500;left:2443.0px;">員工</div>
<div class="t l v" style="left:2582.0px;top:1714.5px;">直接人員</div>
<div class="t l v" style="left:2582.0px;top:2336.5px;">間接人員</div>
<div class="t" style="top:875.7px;font-size:50px;line-height:50px;font-weight:500;letter-spacing:0.5px;left:2769.6px;">性別</div>
<div class="t" style="top:1077.5px;font-size:50px;line-height:50px;font-weight:500;letter-spacing:0.5px;left:2769.6px;">年齡</div>
<div class="t" style="top:1311.8px;font-size:50px;line-height:50px;font-weight:500;letter-spacing:0.5px;left:2769.6px;">學歷</div>
<div class="t" style="top:1507.7px;font-size:50px;line-height:50px;font-weight:500;letter-spacing:0.5px;left:2769.6px;">性別</div>
<div class="t" style="top:1708.0px;font-size:50px;line-height:50px;font-weight:500;letter-spacing:0.5px;left:2769.6px;">年齡</div>
<div class="t" style="top:1947.0px;font-size:50px;line-height:50px;font-weight:500;letter-spacing:0.5px;left:2769.6px;">學歷</div>
<div class="t" style="top:2149.2px;font-size:50px;line-height:50px;font-weight:500;letter-spacing:0.5px;left:2769.6px;">性別</div>
<div class="t" style="top:2347.2px;font-size:50px;line-height:50px;font-weight:500;letter-spacing:0.5px;left:2769.6px;">年齡</div>
<div class="t" style="top:2590.0px;font-size:50px;line-height:50px;font-weight:500;letter-spacing:0.5px;left:2769.6px;">學歷</div>
<div class="t" style="top:840.6px;font-size:50px;line-height:50px;letter-spacing:1.6px;left:3034.8px;">男</div>
<div class="t k" style="top:835.0px;font-size:54px;line-height:54px;letter-spacing:2.4px;left:3278.7px;transform:translateX(-50%) scaleX(0.88);">10</div>
<div class="t k" style="top:835.0px;font-size:54px;line-height:54px;letter-spacing:-0.8px;left:3436.4px;transform:translateX(-50%) scaleX(0.88);">90.91%</div>
<div class="t k" style="top:835.0px;font-size:54px;line-height:54px;letter-spacing:2.4px;left:3589.2px;transform:translateX(-50%) scaleX(0.88);">10</div>
<div class="t k" style="top:835.0px;font-size:54px;line-height:54px;letter-spacing:-0.8px;left:3752.9px;transform:translateX(-50%) scaleX(0.88);">90.91%</div>
<div class="t k" style="top:835.0px;font-size:54px;line-height:54px;letter-spacing:2.4px;left:3908.3px;transform:translateX(-50%) scaleX(0.88);">10</div>
<div class="t k" style="top:835.0px;font-size:54px;line-height:54px;letter-spacing:-0.8px;left:4065.6px;transform:translateX(-50%) scaleX(0.88);">90.91%</div>
<div class="t" style="top:919.1px;font-size:50px;line-height:50px;letter-spacing:1.6px;left:3034.8px;">女</div>
<div class="t k" style="top:913.5px;font-size:54px;line-height:54px;left:3277.6px;transform:translateX(-50%) scaleX(0.88);">1</div>
<div class="t k" style="top:913.5px;font-size:54px;line-height:54px;letter-spacing:-0.8px;left:3436.4px;transform:translateX(-50%) scaleX(0.88);">9.09%</div>
<div class="t k" style="top:913.5px;font-size:54px;line-height:54px;left:3588.1px;transform:translateX(-50%) scaleX(0.88);">1</div>
<div class="t k" style="top:913.5px;font-size:54px;line-height:54px;letter-spacing:-0.8px;left:3752.9px;transform:translateX(-50%) scaleX(0.88);">9.09%</div>
<div class="t k" style="top:913.5px;font-size:54px;line-height:54px;left:3907.2px;transform:translateX(-50%) scaleX(0.88);">1</div>
<div class="t k" style="top:913.5px;font-size:54px;line-height:54px;letter-spacing:-0.8px;left:4065.6px;transform:translateX(-50%) scaleX(0.88);">9.09%</div>
<div class="t" style="top:998.1px;font-size:50px;line-height:50px;letter-spacing:1.6px;left:3034.8px;">未滿50</div>
<div class="t k" style="top:992.5px;font-size:54px;line-height:54px;left:3277.6px;transform:translateX(-50%) scaleX(0.88);">2</div>
<div class="t k" style="top:992.5px;font-size:54px;line-height:54px;letter-spacing:-0.8px;left:3436.4px;transform:translateX(-50%) scaleX(0.88);">18.18%</div>
<div class="t k" style="top:992.5px;font-size:54px;line-height:54px;left:3588.1px;transform:translateX(-50%) scaleX(0.88);">2</div>
<div class="t k" style="top:992.5px;font-size:54px;line-height:54px;letter-spacing:-0.8px;left:3752.9px;transform:translateX(-50%) scaleX(0.88);">18.18%</div>
<div class="t k" style="top:992.5px;font-size:54px;line-height:54px;left:3907.2px;transform:translateX(-50%) scaleX(0.88);">2</div>
<div class="t k" style="top:992.5px;font-size:54px;line-height:54px;letter-spacing:-0.8px;left:4065.6px;transform:translateX(-50%) scaleX(0.88);">18.18%</div>
<div class="t" style="top:1077.2px;font-size:50px;line-height:50px;letter-spacing:1.6px;left:3034.8px;">50~60</div>
<div class="t k" style="top:1071.6px;font-size:54px;line-height:54px;left:3277.6px;transform:translateX(-50%) scaleX(0.88);">3</div>
<div class="t k" style="top:1071.6px;font-size:54px;line-height:54px;letter-spacing:-0.8px;left:3436.4px;transform:translateX(-50%) scaleX(0.88);">27.27%</div>
<div class="t k" style="top:1071.6px;font-size:54px;line-height:54px;left:3588.1px;transform:translateX(-50%) scaleX(0.88);">2</div>
<div class="t k" style="top:1071.6px;font-size:54px;line-height:54px;letter-spacing:-0.8px;left:3752.9px;transform:translateX(-50%) scaleX(0.88);">18.18%</div>
<div class="t k" style="top:1071.6px;font-size:54px;line-height:54px;left:3907.2px;transform:translateX(-50%) scaleX(0.88);">2</div>
<div class="t k" style="top:1071.6px;font-size:54px;line-height:54px;letter-spacing:-0.8px;left:4065.6px;transform:translateX(-50%) scaleX(0.88);">18.18%</div>
<div class="t" style="top:1156.3px;font-size:50px;line-height:50px;letter-spacing:1.6px;left:3034.8px;">60以上</div>
<div class="t k" style="top:1150.7px;font-size:54px;line-height:54px;left:3277.6px;transform:translateX(-50%) scaleX(0.88);">6</div>
<div class="t k" style="top:1150.7px;font-size:54px;line-height:54px;letter-spacing:-0.8px;left:3436.4px;transform:translateX(-50%) scaleX(0.88);">54.55%</div>
<div class="t k" style="top:1150.7px;font-size:54px;line-height:54px;left:3588.1px;transform:translateX(-50%) scaleX(0.88);">7</div>
<div class="t k" style="top:1150.7px;font-size:54px;line-height:54px;letter-spacing:-0.8px;left:3752.9px;transform:translateX(-50%) scaleX(0.88);">63.64%</div>
<div class="t k" style="top:1150.7px;font-size:54px;line-height:54px;left:3907.2px;transform:translateX(-50%) scaleX(0.88);">7</div>
<div class="t k" style="top:1150.7px;font-size:54px;line-height:54px;letter-spacing:-0.8px;left:4065.6px;transform:translateX(-50%) scaleX(0.88);">63.64%</div>
<div class="t" style="top:1235.3px;font-size:50px;line-height:50px;letter-spacing:1.6px;left:3034.8px;">研究所</div>
<div class="t k" style="top:1229.7px;font-size:54px;line-height:54px;left:3277.6px;transform:translateX(-50%) scaleX(0.88);">5</div>
<div class="t k" style="top:1229.7px;font-size:54px;line-height:54px;letter-spacing:-0.8px;left:3436.4px;transform:translateX(-50%) scaleX(0.88);">45.45%</div>
<div class="t k" style="top:1229.7px;font-size:54px;line-height:54px;left:3588.1px;transform:translateX(-50%) scaleX(0.88);">4</div>
<div class="t k" style="top:1229.7px;font-size:54px;line-height:54px;letter-spacing:-0.8px;left:3752.9px;transform:translateX(-50%) scaleX(0.88);">36.36%</div>
<div class="t k" style="top:1229.7px;font-size:54px;line-height:54px;left:3907.2px;transform:translateX(-50%) scaleX(0.88);">4</div>
<div class="t k" style="top:1229.7px;font-size:54px;line-height:54px;letter-spacing:-0.8px;left:4065.6px;transform:translateX(-50%) scaleX(0.88);">36.36%</div>
<div class="t" style="top:1314.5px;font-size:50px;line-height:50px;letter-spacing:1.6px;left:3034.8px;">大專院校</div>
<div class="t k" style="top:1308.9px;font-size:54px;line-height:54px;left:3277.6px;transform:translateX(-50%) scaleX(0.88);">4</div>
<div class="t k" style="top:1308.9px;font-size:54px;line-height:54px;letter-spacing:-0.8px;left:3436.4px;transform:translateX(-50%) scaleX(0.88);">36.36%</div>
<div class="t k" style="top:1308.9px;font-size:54px;line-height:54px;left:3588.1px;transform:translateX(-50%) scaleX(0.88);">6</div>
<div class="t k" style="top:1308.9px;font-size:54px;line-height:54px;letter-spacing:-0.8px;left:3752.9px;transform:translateX(-50%) scaleX(0.88);">54.45%</div>
<div class="t k" style="top:1308.9px;font-size:54px;line-height:54px;left:3907.2px;transform:translateX(-50%) scaleX(0.88);">6</div>
<div class="t k" style="top:1308.9px;font-size:54px;line-height:54px;letter-spacing:-0.8px;left:4065.6px;transform:translateX(-50%) scaleX(0.88);">54.55%</div>
<div class="t" style="top:1393.8px;font-size:50px;line-height:50px;letter-spacing:1.6px;left:3034.8px;">高中以下</div>
<div class="t k" style="top:1388.2px;font-size:54px;line-height:54px;left:3277.6px;transform:translateX(-50%) scaleX(0.88);">2</div>
<div class="t k" style="top:1388.2px;font-size:54px;line-height:54px;letter-spacing:-0.8px;left:3436.4px;transform:translateX(-50%) scaleX(0.88);">18.18%</div>
<div class="t k" style="top:1388.2px;font-size:54px;line-height:54px;left:3588.1px;transform:translateX(-50%) scaleX(0.88);">1</div>
<div class="t k" style="top:1388.2px;font-size:54px;line-height:54px;letter-spacing:-0.8px;left:3752.9px;transform:translateX(-50%) scaleX(0.88);">9.09%</div>
<div class="t k" style="top:1388.2px;font-size:54px;line-height:54px;left:3907.2px;transform:translateX(-50%) scaleX(0.88);">1</div>
<div class="t k" style="top:1388.2px;font-size:54px;line-height:54px;letter-spacing:-0.8px;left:4065.6px;transform:translateX(-50%) scaleX(0.88);">9.09%</div>
<div class="t" style="top:1472.6px;font-size:50px;line-height:50px;letter-spacing:1.6px;left:3034.8px;">男</div>
<div class="t k" style="top:1469.9px;font-size:54px;line-height:54px;letter-spacing:1.6px;left:3277.7px;transform:translateX(-50%) scaleX(0.88);">1815</div>
<div class="t k" style="top:1469.9px;font-size:54px;line-height:54px;letter-spacing:-0.8px;left:3440.6px;transform:translateX(-50%) scaleX(0.88);">77.10%</div>
<div class="t k" style="top:1469.9px;font-size:54px;line-height:54px;letter-spacing:1.6px;left:3592.0px;transform:translateX(-50%) scaleX(0.88);">1763</div>
<div class="t k" style="top:1469.9px;font-size:54px;line-height:54px;letter-spacing:-0.8px;left:3750.6px;transform:translateX(-50%) scaleX(0.88);">77.16%</div>
<div class="t k" style="top:1469.9px;font-size:54px;line-height:54px;letter-spacing:1.6px;left:3906.4px;transform:translateX(-50%) scaleX(0.88);">1721</div>
<div class="t k" style="top:1469.9px;font-size:54px;line-height:54px;letter-spacing:-0.8px;left:4065.8px;transform:translateX(-50%) scaleX(0.88);">76.63%</div>
<div class="t" style="top:1552.3px;font-size:50px;line-height:50px;letter-spacing:1.6px;left:3034.8px;">女</div>
<div class="t k" style="top:1549.6px;font-size:54px;line-height:54px;letter-spacing:2px;left:3277.9px;transform:translateX(-50%) scaleX(0.88);">114</div>
<div class="t k" style="top:1549.6px;font-size:54px;line-height:54px;letter-spacing:-0.8px;left:3440.6px;transform:translateX(-50%) scaleX(0.88);">4.84%</div>
<div class="t k" style="top:1549.6px;font-size:54px;line-height:54px;letter-spacing:2px;left:3592.2px;transform:translateX(-50%) scaleX(0.88);">112</div>
<div class="t k" style="top:1549.6px;font-size:54px;line-height:54px;letter-spacing:-0.8px;left:3750.6px;transform:translateX(-50%) scaleX(0.88);">4.90%</div>
<div class="t k" style="top:1549.6px;font-size:54px;line-height:54px;letter-spacing:2.4px;left:3906.8px;transform:translateX(-50%) scaleX(0.88);">93</div>
<div class="t k" style="top:1549.6px;font-size:54px;line-height:54px;letter-spacing:-0.8px;left:4065.8px;transform:translateX(-50%) scaleX(0.88);">4.14%</div>
<div class="t" style="top:1631.5px;font-size:50px;line-height:50px;letter-spacing:1.6px;left:3034.8px;">未滿30</div>
<div class="t k" style="top:1628.8px;font-size:54px;line-height:54px;letter-spacing:2px;left:3277.9px;transform:translateX(-50%) scaleX(0.88);">331</div>
<div class="t k" style="top:1628.8px;font-size:54px;line-height:54px;letter-spacing:-0.8px;left:3440.6px;transform:translateX(-50%) scaleX(0.88);">14.06%</div>
<div class="t k" style="top:1628.8px;font-size:54px;line-height:54px;letter-spacing:2px;left:3592.2px;transform:translateX(-50%) scaleX(0.88);">354</div>
<div class="t k" style="top:1628.8px;font-size:54px;line-height:54px;letter-spacing:-0.8px;left:3750.6px;transform:translateX(-50%) scaleX(0.88);">15.49%</div>
<div class="t k" style="top:1628.8px;font-size:54px;line-height:54px;letter-spacing:2px;left:3906.6px;transform:translateX(-50%) scaleX(0.88);">334</div>
<div class="t k" style="top:1628.8px;font-size:54px;line-height:54px;letter-spacing:-0.8px;left:4065.8px;transform:translateX(-50%) scaleX(0.88);">14.87%</div>
<div class="t" style="top:1710.6px;font-size:50px;line-height:50px;letter-spacing:0.4px;left:3034.2px;">30以上未滿50</div>
<div class="t k" style="top:1707.9px;font-size:54px;line-height:54px;letter-spacing:1.6px;left:3277.7px;transform:translateX(-50%) scaleX(0.88);">1267</div>
<div class="t k" style="top:1707.9px;font-size:54px;line-height:54px;letter-spacing:-0.8px;left:3440.6px;transform:translateX(-50%) scaleX(0.88);">53.82%</div>
<div class="t k" style="top:1707.9px;font-size:54px;line-height:54px;letter-spacing:1.6px;left:3592.0px;transform:translateX(-50%) scaleX(0.88);">1183</div>
<div class="t k" style="top:1707.9px;font-size:54px;line-height:54px;letter-spacing:-0.8px;left:3750.6px;transform:translateX(-50%) scaleX(0.88);">51.77%</div>
<div class="t k" style="top:1707.9px;font-size:54px;line-height:54px;letter-spacing:1.6px;left:3906.4px;transform:translateX(-50%) scaleX(0.88);">1099</div>
<div class="t k" style="top:1707.9px;font-size:54px;line-height:54px;letter-spacing:-0.8px;left:4065.8px;transform:translateX(-50%) scaleX(0.88);">48.93%</div>
<div class="t" style="top:1790.3px;font-size:50px;line-height:50px;letter-spacing:1.6px;left:3034.8px;">50以上</div>
<div class="t k" style="top:1787.6px;font-size:54px;line-height:54px;letter-spacing:2px;left:3277.9px;transform:translateX(-50%) scaleX(0.88);">333</div>
<div class="t k" style="top:1787.6px;font-size:54px;line-height:54px;letter-spacing:-0.8px;left:3440.6px;transform:translateX(-50%) scaleX(0.88);">14.15%</div>
<div class="t k" style="top:1787.6px;font-size:54px;line-height:54px;letter-spacing:2px;left:3592.2px;transform:translateX(-50%) scaleX(0.88);">338</div>
<div class="t k" style="top:1787.6px;font-size:54px;line-height:54px;letter-spacing:-0.8px;left:3750.6px;transform:translateX(-50%) scaleX(0.88);">14.79%</div>
<div class="t k" style="top:1787.6px;font-size:54px;line-height:54px;letter-spacing:2px;left:3906.6px;transform:translateX(-50%) scaleX(0.88);">381</div>
<div class="t k" style="top:1787.6px;font-size:54px;line-height:54px;letter-spacing:-0.8px;left:4065.8px;transform:translateX(-50%) scaleX(0.88);">16.96%</div>
<div class="t" style="top:1870.0px;font-size:50px;line-height:50px;letter-spacing:1.6px;left:3034.8px;">研究所</div>
<div class="t k" style="top:1867.3px;font-size:54px;line-height:54px;letter-spacing:2px;left:3277.9px;transform:translateX(-50%) scaleX(0.88);">181</div>
<div class="t k" style="top:1867.3px;font-size:54px;line-height:54px;letter-spacing:-0.8px;left:3440.6px;transform:translateX(-50%) scaleX(0.88);">7.69%</div>
<div class="t k" style="top:1867.3px;font-size:54px;line-height:54px;left:3591.3px;transform:translateX(-50%) scaleX(0.88);">1</div>
<div class="t k" style="top:1867.3px;font-size:54px;line-height:54px;letter-spacing:-0.8px;left:3750.6px;transform:translateX(-50%) scaleX(0.88);">0.04%</div>
<div class="t k" style="top:1867.3px;font-size:54px;line-height:54px;left:3905.7px;transform:translateX(-50%) scaleX(0.88);">1</div>
<div class="t k" style="top:1867.3px;font-size:54px;line-height:54px;letter-spacing:-0.8px;left:4065.8px;transform:translateX(-50%) scaleX(0.88);">0.04%</div>
<div class="t" style="top:1949.4px;font-size:50px;line-height:50px;letter-spacing:1.6px;left:3034.8px;">大專院校</div>
<div class="t k" style="top:1946.7px;font-size:54px;line-height:54px;letter-spacing:2px;left:3277.9px;transform:translateX(-50%) scaleX(0.88);">590</div>
<div class="t k" style="top:1946.7px;font-size:54px;line-height:54px;letter-spacing:-0.8px;left:3440.6px;transform:translateX(-50%) scaleX(0.88);">25.06%</div>
<div class="t k" style="top:1946.7px;font-size:54px;line-height:54px;letter-spacing:2px;left:3592.2px;transform:translateX(-50%) scaleX(0.88);">260</div>
<div class="t k" style="top:1946.7px;font-size:54px;line-height:54px;letter-spacing:-0.8px;left:3750.6px;transform:translateX(-50%) scaleX(0.88);">11.38%</div>
<div class="t k" style="top:1946.7px;font-size:54px;line-height:54px;letter-spacing:2px;left:3906.6px;transform:translateX(-50%) scaleX(0.88);">251</div>
<div class="t k" style="top:1946.7px;font-size:54px;line-height:54px;letter-spacing:-0.8px;left:4065.8px;transform:translateX(-50%) scaleX(0.88);">11.18%</div>
<div class="t" style="top:2029.0px;font-size:50px;line-height:50px;letter-spacing:1.6px;left:3034.8px;">其他</div>
<div class="t k" style="top:2026.3px;font-size:54px;line-height:54px;letter-spacing:1.6px;left:3277.7px;transform:translateX(-50%) scaleX(0.88);">1160</div>
<div class="t k" style="top:2026.3px;font-size:54px;line-height:54px;letter-spacing:-0.8px;left:3440.6px;transform:translateX(-50%) scaleX(0.88);">49.28%</div>
<div class="t k" style="top:2026.3px;font-size:54px;line-height:54px;letter-spacing:1.6px;left:3592.0px;transform:translateX(-50%) scaleX(0.88);">1614</div>
<div class="t k" style="top:2026.3px;font-size:54px;line-height:54px;letter-spacing:-0.8px;left:3750.6px;transform:translateX(-50%) scaleX(0.88);">70.63%</div>
<div class="t k" style="top:2026.3px;font-size:54px;line-height:54px;letter-spacing:1.6px;left:3906.4px;transform:translateX(-50%) scaleX(0.88);">1562</div>
<div class="t k" style="top:2026.3px;font-size:54px;line-height:54px;letter-spacing:-0.8px;left:4065.8px;transform:translateX(-50%) scaleX(0.88);">69.55%</div>
<div class="t" style="top:2109.0px;font-size:50px;line-height:50px;letter-spacing:1.6px;left:3034.8px;">男性</div>
<div class="t k" style="top:2102.5px;font-size:54px;line-height:54px;letter-spacing:2px;left:3271.9px;transform:translateX(-50%) scaleX(0.88);">188</div>
<div class="t k" style="top:2102.5px;font-size:54px;line-height:54px;letter-spacing:-0.8px;left:3440.9px;transform:translateX(-50%) scaleX(0.88);">7.99%</div>
<div class="t k" style="top:2102.5px;font-size:54px;line-height:54px;letter-spacing:2px;left:3591.3px;transform:translateX(-50%) scaleX(0.88);">191</div>
<div class="t k" style="top:2102.5px;font-size:54px;line-height:54px;letter-spacing:-0.8px;left:3750.9px;transform:translateX(-50%) scaleX(0.88);">8.36%</div>
<div class="t k" style="top:2102.5px;font-size:54px;line-height:54px;letter-spacing:2px;left:3912.1px;transform:translateX(-50%) scaleX(0.88);">201</div>
<div class="t k" style="top:2102.5px;font-size:54px;line-height:54px;letter-spacing:-0.8px;left:4066.1px;transform:translateX(-50%) scaleX(0.88);">8.95%</div>
<div class="t" style="top:2187.9px;font-size:50px;line-height:50px;letter-spacing:1.6px;left:3034.8px;">女性</div>
<div class="t k" style="top:2181.4px;font-size:54px;line-height:54px;letter-spacing:2px;left:3271.9px;transform:translateX(-50%) scaleX(0.88);">237</div>
<div class="t k" style="top:2181.4px;font-size:54px;line-height:54px;letter-spacing:-0.8px;left:3440.9px;transform:translateX(-50%) scaleX(0.88);">10.07%</div>
<div class="t k" style="top:2181.4px;font-size:54px;line-height:54px;letter-spacing:2px;left:3591.3px;transform:translateX(-50%) scaleX(0.88);">219</div>
<div class="t k" style="top:2181.4px;font-size:54px;line-height:54px;letter-spacing:-0.8px;left:3750.9px;transform:translateX(-50%) scaleX(0.88);">9.58%</div>
<div class="t k" style="top:2181.4px;font-size:54px;line-height:54px;letter-spacing:2px;left:3912.1px;transform:translateX(-50%) scaleX(0.88);">231</div>
<div class="t k" style="top:2181.4px;font-size:54px;line-height:54px;letter-spacing:-0.8px;left:4066.1px;transform:translateX(-50%) scaleX(0.88);">10.28%</div>
<div class="t" style="top:2267.3px;font-size:50px;line-height:50px;letter-spacing:1.6px;left:3034.8px;">未滿30</div>
<div class="t k" style="top:2261.3px;font-size:54px;line-height:54px;letter-spacing:2px;left:3271.9px;transform:translateX(-50%) scaleX(0.88);">111</div>
<div class="t k" style="top:2261.3px;font-size:54px;line-height:54px;letter-spacing:-0.8px;left:3440.9px;transform:translateX(-50%) scaleX(0.88);">4.72%</div>
<div class="t k" style="top:2261.3px;font-size:54px;line-height:54px;letter-spacing:2.4px;left:3591.5px;transform:translateX(-50%) scaleX(0.88);">56</div>
<div class="t k" style="top:2261.3px;font-size:54px;line-height:54px;letter-spacing:-0.8px;left:3750.9px;transform:translateX(-50%) scaleX(0.88);">2.45%</div>
<div class="t k" style="top:2261.3px;font-size:54px;line-height:54px;letter-spacing:2.4px;left:3912.3px;transform:translateX(-50%) scaleX(0.88);">52</div>
<div class="t k" style="top:2261.3px;font-size:54px;line-height:54px;letter-spacing:-0.8px;left:4066.1px;transform:translateX(-50%) scaleX(0.88);">2.32%</div>
<div class="t" style="top:2346.3px;font-size:50px;line-height:50px;letter-spacing:0.4px;left:3034.2px;">30以上未滿50</div>
<div class="t k" style="top:2340.3px;font-size:54px;line-height:54px;letter-spacing:2px;left:3271.9px;transform:translateX(-50%) scaleX(0.88);">264</div>
<div class="t k" style="top:2340.3px;font-size:54px;line-height:54px;letter-spacing:-0.8px;left:3440.9px;transform:translateX(-50%) scaleX(0.88);">11.21%</div>
<div class="t k" style="top:2340.3px;font-size:54px;line-height:54px;letter-spacing:2px;left:3591.3px;transform:translateX(-50%) scaleX(0.88);">309</div>
<div class="t k" style="top:2340.3px;font-size:54px;line-height:54px;letter-spacing:-0.8px;left:3750.9px;transform:translateX(-50%) scaleX(0.88);">13.52%</div>
<div class="t k" style="top:2340.3px;font-size:54px;line-height:54px;letter-spacing:2px;left:3912.1px;transform:translateX(-50%) scaleX(0.88);">328</div>
<div class="t k" style="top:2340.3px;font-size:54px;line-height:54px;letter-spacing:-0.8px;left:4066.1px;transform:translateX(-50%) scaleX(0.88);">14.60%</div>
<div class="t" style="top:2425.0px;font-size:50px;line-height:50px;letter-spacing:1.6px;left:3034.8px;">50以上</div>
<div class="t k" style="top:2419.6px;font-size:54px;line-height:54px;letter-spacing:2.4px;left:3272.1px;transform:translateX(-50%) scaleX(0.88);">48</div>
<div class="t k" style="top:2419.6px;font-size:54px;line-height:54px;letter-spacing:-0.8px;left:3440.9px;transform:translateX(-50%) scaleX(0.88);">2.04%</div>
<div class="t k" style="top:2419.6px;font-size:54px;line-height:54px;letter-spacing:2.4px;left:3591.5px;transform:translateX(-50%) scaleX(0.88);">45</div>
<div class="t k" style="top:2419.6px;font-size:54px;line-height:54px;letter-spacing:-0.8px;left:3750.9px;transform:translateX(-50%) scaleX(0.88);">1.97%</div>
<div class="t k" style="top:2419.6px;font-size:54px;line-height:54px;letter-spacing:2.4px;left:3912.3px;transform:translateX(-50%) scaleX(0.88);">52</div>
<div class="t k" style="top:2419.6px;font-size:54px;line-height:54px;letter-spacing:-0.8px;left:4066.1px;transform:translateX(-50%) scaleX(0.88);">2.32%</div>
<div class="t" style="top:2504.4px;font-size:50px;line-height:50px;letter-spacing:1.6px;left:3034.8px;">研究所</div>
<div class="t k" style="top:2499.6px;font-size:54px;line-height:54px;left:3271.0px;transform:translateX(-50%) scaleX(0.88);">8</div>
<div class="t k" style="top:2499.6px;font-size:54px;line-height:54px;letter-spacing:-0.8px;left:3440.9px;transform:translateX(-50%) scaleX(0.88);">0.34%</div>
<div class="t k" style="top:2499.6px;font-size:54px;line-height:54px;letter-spacing:2.4px;left:3591.5px;transform:translateX(-50%) scaleX(0.88);">11</div>
<div class="t k" style="top:2499.6px;font-size:54px;line-height:54px;letter-spacing:-0.8px;left:3750.9px;transform:translateX(-50%) scaleX(0.88);">0.48%</div>
<div class="t k" style="top:2499.6px;font-size:54px;line-height:54px;left:3911.2px;transform:translateX(-50%) scaleX(0.88);">5</div>
<div class="t k" style="top:2499.6px;font-size:54px;line-height:54px;letter-spacing:-0.8px;left:4066.1px;transform:translateX(-50%) scaleX(0.88);">0.22%</div>
<div class="t" style="top:2583.5px;font-size:50px;line-height:50px;letter-spacing:1.6px;left:3034.8px;">大專院校</div>
<div class="t k" style="top:2578.5px;font-size:54px;line-height:54px;letter-spacing:2px;left:3271.9px;transform:translateX(-50%) scaleX(0.88);">244</div>
<div class="t k" style="top:2578.5px;font-size:54px;line-height:54px;letter-spacing:-0.8px;left:3440.9px;transform:translateX(-50%) scaleX(0.88);">10.37%</div>
<div class="t k" style="top:2578.5px;font-size:54px;line-height:54px;letter-spacing:2px;left:3591.3px;transform:translateX(-50%) scaleX(0.88);">224</div>
<div class="t k" style="top:2578.5px;font-size:54px;line-height:54px;letter-spacing:-0.8px;left:3750.9px;transform:translateX(-50%) scaleX(0.88);">9.80%</div>
<div class="t k" style="top:2578.5px;font-size:54px;line-height:54px;letter-spacing:2px;left:3912.1px;transform:translateX(-50%) scaleX(0.88);">259</div>
<div class="t k" style="top:2578.5px;font-size:54px;line-height:54px;letter-spacing:-0.8px;left:4066.1px;transform:translateX(-50%) scaleX(0.88);">11.53%</div>
<div class="t" style="top:2662.3px;font-size:50px;line-height:50px;letter-spacing:1.6px;left:3034.8px;">其他</div>
<div class="t k" style="top:2658.1px;font-size:54px;line-height:54px;letter-spacing:2px;left:3271.9px;transform:translateX(-50%) scaleX(0.88);">171</div>
<div class="t k" style="top:2658.1px;font-size:54px;line-height:54px;letter-spacing:-0.8px;left:3440.9px;transform:translateX(-50%) scaleX(0.88);">7.26%</div>
<div class="t k" style="top:2658.1px;font-size:54px;line-height:54px;letter-spacing:2px;left:3591.3px;transform:translateX(-50%) scaleX(0.88);">175</div>
<div class="t k" style="top:2658.1px;font-size:54px;line-height:54px;letter-spacing:-0.8px;left:3750.9px;transform:translateX(-50%) scaleX(0.88);">7.66%</div>
<div class="t k" style="top:2658.1px;font-size:54px;line-height:54px;letter-spacing:2px;left:3912.1px;transform:translateX(-50%) scaleX(0.88);">168</div>
<div class="t k" style="top:2658.1px;font-size:54px;line-height:54px;letter-spacing:-0.8px;left:4066.1px;transform:translateX(-50%) scaleX(0.88);">7.48%</div>
<div class="t l p" style="top:2772.0px;font-size:46px;line-height:46px;font-weight:700;color:#ec7488;left:2326.0px;">注：</div>
<div class="t l p" style="top:2772.6px;font-size:45.8px;line-height:45.8px;font-weight:300;left:2395.0px;">計算方式如下</div>
<div class="t l p" style="top:2844.6px;font-size:45.8px;line-height:45.8px;font-weight:300;left:2326.0px;">女性董事百分比<span class="lt">=</span>（當年底女性董事人數 <span class="lt">/</span> 當年底董事人數）<span class="lt">*100%</span>。</div>
<div class="t l p" style="top:2914.6px;font-size:45.8px;line-height:45.8px;font-weight:300;left:2326.0px;">未滿<span class="lt">30</span>歲的直接人員百分比<span class="lt">=</span>（當年底未滿<span class="lt">30</span>歲的直接人員總數 <span class="lt">/</span> 當年底的員工總數）<span class="lt">*100%</span>。</div>
<div class="t l p" style="top:2985.1px;font-size:45.8px;line-height:45.8px;font-weight:300;left:2326.0px;">研究所學歷的間接人員百分比<span class="lt">=</span>（當年度研究所學歷的間接人員總數 <span class="lt">/</span> 當年底的員工總數）<span class="lt">*100</span>。</div>
<!-- footer -->
<div class="b" style="left:4061.0px;top:3295.0px;width:101.0px;height:169.0px;background:#ec7488;"></div>
<div class="t l" style="top:3329.0px;font-size:50px;line-height:50px;letter-spacing:4.15px;left:2966.0px;">2023 Sustainability Report</div>
<div class="t l" style="top:3328.5px;font-size:50px;line-height:50px;letter-spacing:17px;left:3696.0px;">永續報告書</div>
<div class="t" style="top:3331.5px;font-size:49px;line-height:49px;letter-spacing:3px;color:#fff;left:4113.0px;">57</div>
</body>
</html>
